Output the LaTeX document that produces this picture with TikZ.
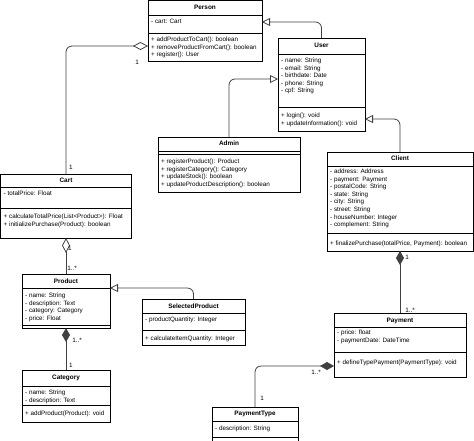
\documentclass[tikz,border=0pt]{standalone}
\usepackage{fontspec}
\setmainfont{Liberation Sans}
\usetikzlibrary{arrows.meta}

\begin{document}
\begin{tikzpicture}[x=1pt, y=-1pt,
		classbox/.style={draw, line width=0.6pt, inner sep=0pt, outer sep=0pt},
		classline/.style={line width=0.6pt},
		classtitle/.style={font=\fontsize{6.4}{7.6}\selectfont\bfseries, inner sep=0pt, text height=4.6pt, text depth=1.3pt},
		members/.style={font=\fontsize{6.3}{7.6}\selectfont, inner sep=0pt, anchor=north west, align=left},
		mult/.style={font=\fontsize{6.3}{7.6}\selectfont, inner sep=0pt},
		link/.style={draw=black!75, line width=0.8pt, rounded corners=6pt},
		generalize/.style={link, -{Triangle[open, length=8pt, width=8pt]}},
		aggregate/.style={link, -{Diamond[open, length=15pt, width=8pt]}},
		compose/.style={link, -{Diamond[length=14pt, width=8pt]}}]
	
	\useasboundingbox (0,0) rectangle (474,440);
	
	% separator below a given distance from the top of a class box
	\newcommand{\classsep}[2]{\draw[classline] ([yshift=-#2pt]#1.north west) -- ([yshift=-#2pt]#1.north east);}
	
	% --- Person ---
	\node[classbox, minimum width=114pt, minimum height=61pt] (Person) at (205,30.5) {};
	\node[classtitle] (Person-title) at ([yshift=-7.5pt]Person.north) {Person};
	\classsep{Person}{15}
	\classsep{Person}{33}
	\node[members] (Person-attr) at ([shift={(3pt,-18.8pt)}]Person.north west) {- cart: Cart};
	\node[members] (Person-meth) at ([shift={(3pt,-36.8pt)}]Person.north west)
	{+ addProductToCart(): boolean\\+ removeProductFromCart(): boolean\\+ register(): User};
	
	% --- User ---
	\node[classbox, minimum width=87pt, minimum height=93pt] (User) at (321.5,84.5) {};
	\node[classtitle] (User-title) at ([yshift=-8pt]User.north) {User};
	\classsep{User}{16}
	\classsep{User}{69}
	\node[members] (User-attr) at ([shift={(3pt,-19.8pt)}]User.north west)
	{- name: String\\- email: String\\- birthdate: Date\\- phone: String\\- cpf: String};
	\node[members] (User-meth) at ([shift={(3pt,-74.8pt)}]User.north west)
	{+ login(): void\\+ updateInformation(): void};
	
	% --- Admin (no attributes) ---
	\node[classbox, minimum width=142pt, minimum height=55pt] (Admin) at (229,164.5) {};
	\node[classtitle] (Admin-title) at ([yshift=-7pt]Admin.north) {Admin};
	\classsep{Admin}{14}
	\classsep{Admin}{17}
	\node[members] (Admin-meth) at ([shift={(3pt,-21.8pt)}]Admin.north west)
	{+ registerProduct(): Product\\+ registerCategory(): Category\\+ updateStock(): boolean\\+ updateProductDescription(): boolean};
	
	% --- Client ---
	\node[classbox, minimum width=146pt, minimum height=99pt] (Client) at (400,201.5) {};
	\node[classtitle] (Client-title) at ([yshift=-7pt]Client.north) {Client};
	\classsep{Client}{14}
	\classsep{Client}{81}
	\node[members] (Client-attr) at ([shift={(3pt,-16.8pt)}]Client.north west)
	{- address: Address\\- payment: Payment\\- postalCode: String\\- state: String\\- city: String\\- street: String\\- houseNumber: Integer\\- complement: String};
	\node[members] (Client-meth) at ([shift={(3pt,-88.8pt)}]Client.north west)
	{+ finalizePurchase(totalPrice, Payment): boolean};
	
	% --- Cart ---
	\node[classbox, minimum width=131pt, minimum height=64pt] (Cart) at (66,206) {};
	\node[classtitle] (Cart-title) at ([yshift=-6.5pt]Cart.north) {Cart};
	\classsep{Cart}{13}
	\classsep{Cart}{34}
	\node[members] (Cart-attr) at ([shift={(3pt,-16.8pt)}]Cart.north west) {- totalPrice: Float};
	\node[members] (Cart-meth) at ([shift={(3pt,-39.8pt)}]Cart.north west)
	{+ calculateTotalPrice(List<Product>): Float\\+ initializePurchase(Product): boolean};
	
	% --- Product (no methods) ---
	\node[classbox, minimum width=88pt, minimum height=54pt] (Product) at (66,301) {};
	\node[classtitle] (Product-title) at ([yshift=-7.5pt]Product.north) {Product};
	\classsep{Product}{14}
	\classsep{Product}{51}
	\node[members] (Product-attr) at ([shift={(3pt,-18.8pt)}]Product.north west)
	{- name: String\\- description: Text\\- category: Category\\- price: Float};
	
	% --- SelectedProduct ---
	\node[classbox, minimum width=103pt, minimum height=46pt] (SelectedProduct) at (193.5,322) {};
	\node[classtitle] (SelectedProduct-title) at ([yshift=-7.5pt]SelectedProduct.north) {SelectedProduct};
	\classsep{SelectedProduct}{14}
	\classsep{SelectedProduct}{31}
	\node[members] (SelectedProduct-attr) at ([shift={(3pt,-17.8pt)}]SelectedProduct.north west) {- productQuantity: Integer};
	\node[members] (SelectedProduct-meth) at ([shift={(3pt,-36.8pt)}]SelectedProduct.north west) {+ calculateItemQuantity: Integer};
	
	% --- Category ---
	\node[classbox, minimum width=88pt, minimum height=52pt] (Category) at (66,396) {};
	\node[classtitle] (Category-title) at ([yshift=-8pt]Category.north) {Category};
	\classsep{Category}{16}
	\classsep{Category}{35}
	\node[members] (Category-attr) at ([shift={(3pt,-19.8pt)}]Category.north west)
	{- name: String\\- description: Text};
	\node[members] (Category-meth) at ([shift={(3pt,-40.8pt)}]Category.north west) {+ addProduct(Product): void};
	
	% --- Payment ---
	\node[classbox, minimum width=132pt, minimum height=64pt] (Payment) at (400,345) {};
	\node[classtitle] (Payment-title) at ([yshift=-7.5pt]Payment.north) {Payment};
	\classsep{Payment}{14}
	\classsep{Payment}{39}
	\node[members] (Payment-attr) at ([shift={(3pt,-16.8pt)}]Payment.north west)
	{- price: float\\- paymentDate: DateTime};
	\node[members] (Payment-meth) at ([shift={(3pt,-46.8pt)}]Payment.north west) {+ defineTypePayment(PaymentType): void};
	
	% --- PaymentType (runs off the bottom edge) ---
	\node[classbox, minimum width=86pt, minimum height=43pt] (PaymentType) at (255,428.5) {};
	\node[classtitle] (PaymentType-title) at ([yshift=-7pt]PaymentType.north) {PaymentType};
	\classsep{PaymentType}{14}
	\classsep{PaymentType}{30}
	\node[members] (PaymentType-attr) at ([shift={(3pt,-18.8pt)}]PaymentType.north west) {- description: String};
	
	% --- Generalizations ---
	\draw[generalize] (User.north) |- ([yshift=-22pt]Person.north east);
	\draw[generalize] (Admin.north) |- ([yshift=-41pt]User.north west);
	\draw[generalize] (Client.north) |- ([yshift=-81pt]User.north east);
	\draw[generalize] (SelectedProduct.north) |- ([yshift=-14pt]Product.north east);
	
	% --- Aggregations ---
	\draw[aggregate] (Cart.north) |- ([yshift=-46pt]Person.north west);
	\node[mult] (m-person) at (137,62) {1};
	\node[mult] (m-cart) at (71,167) {1};
	
	\draw[aggregate] (Product.north) -- (Cart.south);
	\node[mult] (m-cart2) at (70,248) {1};
	\node[mult] (m-product) at (72,268) {1..*};
	
	% --- Compositions ---
	\draw[compose] (Category.north) -- (Product.south);
	\node[mult] (m-product2) at (77,340) {1..*};
	\node[mult] (m-category) at (71,365) {1};
	
	\draw[compose] (Payment.north) -- (Client.south);
	\node[mult] (m-client) at (407,257) {1};
	\node[mult] (m-payment) at (410,310) {1..*};
	
	\draw[compose] (PaymentType.north) |- ([yshift=-53pt]Payment.north west);
	\node[mult] (m-payment2) at (316,372) {1..*};
	\node[mult] (m-paymenttype) at (262,398) {1};
	
\end{tikzpicture}
\end{document}
